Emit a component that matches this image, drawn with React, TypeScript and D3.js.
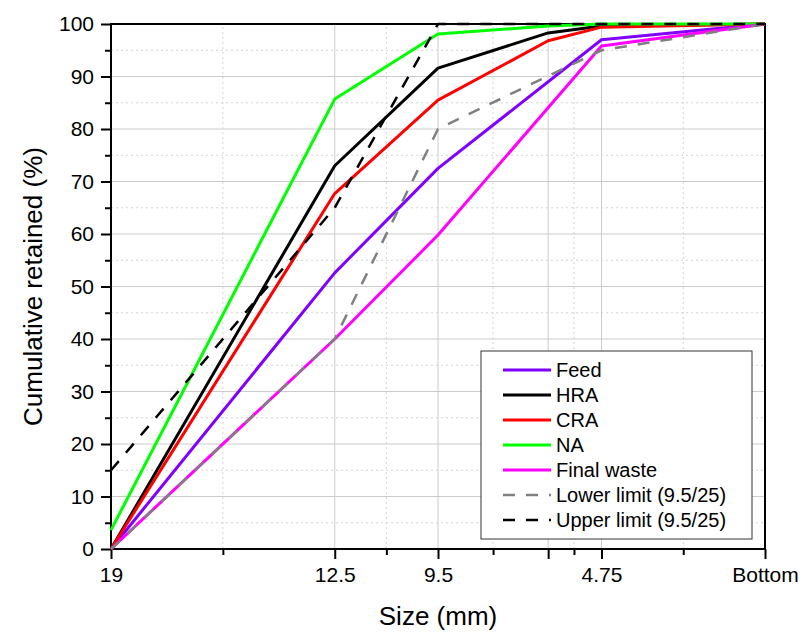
import React, { useRef, useEffect } from "react";
import * as d3 from "d3";

// sieve sizes (mm), 0 = "Bottom"
const sizes = [19, 12.5, 9.5, 6.3, 4.75, 0];
const feed = [0, 52.6, 72.5, null, 97.0, 100];
const hra = [0, 73.0, 91.6, 98.3, 99.6, 100];
const cra = [0, 67.7, 85.5, 96.8, 99.4, 100];
const na = [3.6, 85.7, 98.1, 99.6, 100, 100];
const finalWaste = [0, 40.0, 59.8, null, 95.8, 100];
const lowerLimit = [0, 40, 80, null, 95, 100];
const upperLimit = [15, 65, 100, null, 100, 100];

const majorTicks = [19, 12.5, 9.5, 6.3, 4.75, 0];
const majorLabels = ["19", "12.5", "9.5", "", "4.75", "Bottom"];
const minorTicks = [15.75, 11, 7.9, 5.55, 2.375];

const seriesNames = ["Feed", "HRA", "CRA", "NA", "Final waste", "Lower limit (9.5/25)", "Upper limit (9.5/25)"];
const seriesColors = ["#7f00ff", "#000000", "#ff0000", "#00ff00", "#ff00ff", "#808080", "#000000"];
const seriesDash = [null, null, null, null, null, "12 11", "12 11"];

const App = () => {
    const ref = useRef(null);

    useEffect(() => {
        const width = 803;
        const height = 634;
        const margin = { top: 24, right: 38, bottom: 85, left: 111 };
        const font = "'Liberation Sans', Arial, sans-serif";
        const allSeries = [feed, hra, cra, na, finalWaste, lowerLimit, upperLimit];

        const svg = d3.select(ref.current)
            .attr("width", width)
            .attr("height", height);
        svg.selectAll("*").remove();

        const x = d3.scaleLinear()
            .domain([19, 0])
            .range([margin.left, width - margin.right]);
        const y = d3.scaleLinear()
            .domain([0, 100])
            .range([height - margin.bottom, margin.top]);

        const x0 = x.range()[0], x1 = x.range()[1];
        const y0 = y.range()[0], y1 = y.range()[1];

        svg.append("rect").attr("width", width).attr("height", height).attr("fill", "#fff");

        // grid: solid at majors, dotted at minors
        const grid = svg.append("g");
        d3.range(10, 100, 10).forEach(v => {
            grid.append("line").attr("x1", x0).attr("x2", x1).attr("y1", y(v)).attr("y2", y(v))
                .attr("stroke", "#cccccc").attr("stroke-width", 1);
        });
        d3.range(5, 100, 10).forEach(v => {
            grid.append("line").attr("x1", x0).attr("x2", x1).attr("y1", y(v)).attr("y2", y(v))
                .attr("stroke", "#d4d4d4").attr("stroke-width", 1).attr("stroke-dasharray", "2 3");
        });
        majorTicks.slice(1, -1).forEach(v => {
            grid.append("line").attr("x1", x(v)).attr("x2", x(v)).attr("y1", y0).attr("y2", y1)
                .attr("stroke", "#cccccc").attr("stroke-width", 1);
        });
        minorTicks.forEach(v => {
            grid.append("line").attr("x1", x(v)).attr("x2", x(v)).attr("y1", y0).attr("y2", y1)
                .attr("stroke", "#d4d4d4").attr("stroke-width", 1).attr("stroke-dasharray", "2 3");
        });

        // frame
        svg.append("rect")
            .attr("x", x0).attr("y", y1)
            .attr("width", x1 - x0).attr("height", y0 - y1)
            .attr("fill", "none").attr("stroke", "#000").attr("stroke-width", 2);

        // y axis
        svg.append("g")
            .attr("transform", `translate(${x0},0)`)
            .call(d3.axisLeft(y).tickValues(d3.range(0, 101, 10)).tickSize(10).tickPadding(7))
            .call(g => g.select(".domain").remove())
            .style("font-family", font).style("font-size", "21px");
        svg.append("g")
            .attr("transform", `translate(${x0},0)`)
            .call(d3.axisLeft(y).tickValues(d3.range(5, 100, 10)).tickSize(6).tickFormat(() => ""))
            .call(g => g.select(".domain").remove());

        // x axis
        svg.append("g")
            .attr("transform", `translate(0,${y0})`)
            .call(d3.axisBottom(x).tickValues(majorTicks).tickSize(10).tickPadding(8)
                .tickFormat((d, i) => majorLabels[i]))
            .call(g => g.select(".domain").remove())
            .style("font-family", font).style("font-size", "21px");
        svg.append("g")
            .attr("transform", `translate(0,${y0})`)
            .call(d3.axisBottom(x).tickValues(minorTicks).tickSize(6).tickFormat(() => ""))
            .call(g => g.select(".domain").remove());

        svg.selectAll(".tick line").attr("stroke", "#000").attr("stroke-width", 2);
        svg.selectAll(".tick text").attr("fill", "#000");

        // series
        const line = d3.line()
            .x(d => x(d[0]))
            .y(d => y(d[1]));
        allSeries.forEach((vals, i) => {
            const pts = sizes.map((s, j) => [s, vals[j]]).filter(p => p[1] !== null);
            svg.append("path")
                .attr("d", line(pts))
                .attr("fill", "none")
                .attr("stroke", seriesColors[i])
                .attr("stroke-width", seriesDash[i] ? 2.5 : 3)
                .attr("stroke-dasharray", seriesDash[i])
                .attr("stroke-linejoin", "round");
        });

        // axis titles
        svg.append("text")
            .attr("x", (x0 + x1) / 2).attr("y", 625)
            .attr("text-anchor", "middle")
            .style("font-family", font).style("font-size", "26px")
            .text("Size (mm)");
        svg.append("text")
            .attr("transform", `translate(42,${(y0 + y1) / 2}) rotate(-90)`)
            .attr("text-anchor", "middle")
            .style("font-family", font).style("font-size", "26px")
            .text("Cumulative retained (%)");

        // legend
        const legend = svg.append("g").attr("transform", "translate(481,351)");
        legend.append("rect")
            .attr("width", 271).attr("height", 188)
            .attr("fill", "#fff").attr("stroke", "#333").attr("stroke-width", 1);
        seriesNames.forEach((name, i) => {
            const ly = 19 + i * 25;
            legend.append("line")
                .attr("x1", 22).attr("x2", 70).attr("y1", ly).attr("y2", ly)
                .attr("stroke", seriesColors[i])
                .attr("stroke-width", seriesDash[i] ? 2.5 : 3)
                .attr("stroke-dasharray", seriesDash[i]);
            legend.append("text")
                .attr("x", 75).attr("y", ly + 7)
                .style("font-family", font).style("font-size", "20px")
                .text(name);
        });
    }, []);

    return (
        <div style={{ position: "absolute", left: 0, top: 0 }}>
            <svg ref={ref}></svg>
        </div>
    );
};

export default App;
